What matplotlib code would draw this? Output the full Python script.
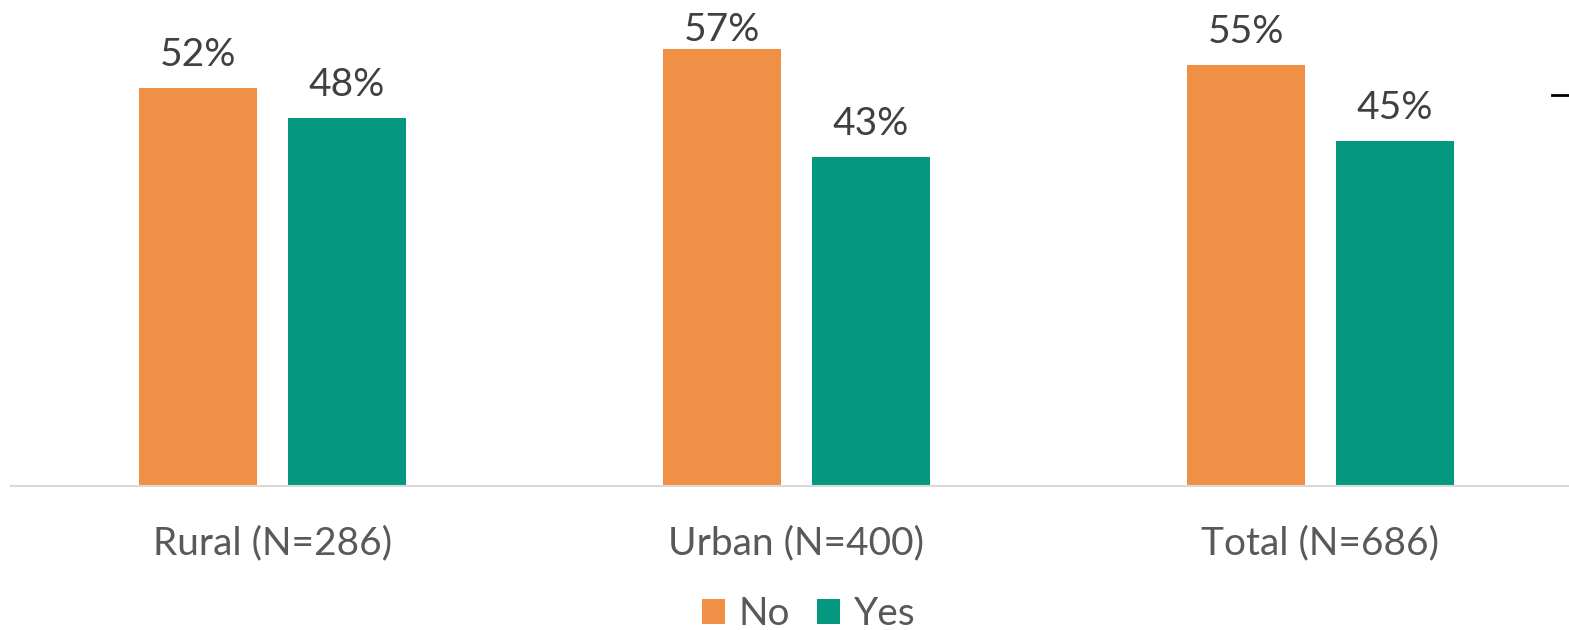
import matplotlib
matplotlib.use("Agg")
import matplotlib.pyplot as plt
import numpy as np

categories = ["Rural (N=286)", "Urban (N=400)", "Total (N=686)"]
series_names = ["No", "Yes"]
no_values = [52, 57, 55]
yes_values = [48, 43, 45]
colors = ["#F09047", "#049880"]

plt.rcParams['font.family'] = ['Lato', 'DejaVu Sans']

W, H = 1569, 630
fig = plt.figure(figsize=(W / 100, H / 100), dpi=100)
base = 486
ax_left = 10.5
band = 524
ax = fig.add_axes([ax_left / W, (H - base) / H, 3 * band / W, (base - 26.4) / H])
ax.set_xlim(-0.5, 2.5)
ax.set_ylim(0, 60)

x = np.arange(len(categories))
bw = 118 / band
off = 74.5 / band
FS = 28
for vals, sign, col, name in [(no_values, -1, colors[0], series_names[0]),
                              (yes_values, 1, colors[1], series_names[1])]:
    bars = ax.bar(x + sign * off, vals, width=bw, color=col, label=name)
    for b, v in zip(bars, vals):
        xc = b.get_x() + b.get_width() / 2
        top_px = H - ax.transData.transform((xc, v))[1]  # from top
        baseline = top_px - 22
        if baseline < 41:
            baseline = 41
        dy = (top_px - baseline) * 72 / 100
        ax.annotate(f"{v}%", (xc, v), xytext=(0, dy), textcoords="offset points",
                    ha="center", va="baseline", fontsize=FS, color="#404040",
                    annotation_clip=False)

for s in ["top", "right", "left"]:
    ax.spines[s].set_visible(False)
ax.spines["bottom"].set_color("#D9D9D9")
ax.spines["bottom"].set_linewidth(1.5)
ax.set_yticks([])
ax.set_xticks(x)
ax.set_xticklabels(categories, fontsize=FS, color="#595959")
ax.tick_params(axis="x", length=0, pad=28.5)

leg = fig.legend(loc="center", bbox_to_anchor=(808.5 / W, 1 - 614 / H), ncol=2,
                 frameon=False, fontsize=FS, handlelength=0.6, handleheight=0.6,
                 handletextpad=0.35, columnspacing=0.68, labelcolor="#595959")

fig.add_artist(plt.Line2D([1552 / W, 1], [1 - 95 / H, 1 - 95 / H], color="black", lw=2))

fig.savefig("out.png", dpi=100)
